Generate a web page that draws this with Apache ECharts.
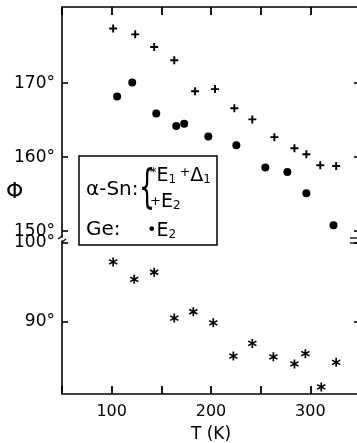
<!DOCTYPE html>
<html>
<head>
<meta charset="utf-8">
<script src="https://cdn.jsdelivr.net/npm/echarts@6/dist/echarts.min.js"></script>
<style>
  html, body { margin: 0; padding: 0; background: #fff; }
  #chart { width: 357px; height: 443px; }
</style>
</head>
<body>
<div id="chart"></div>
<script>
// alpha-Sn E2 (+), upper panel
const plusT = [101.5, 123.7, 142.8, 163, 184, 204, 223.5, 241.6, 263.8, 284, 296, 310, 326];
const plusPhi = [177.4, 176.6, 174.9, 173.1, 168.9, 169.2, 166.6, 165.1, 162.7, 161.2, 160.4, 158.9, 158.8];
// Ge E2 (dots), upper panel
const dotT = [105.5, 120.7, 144.9, 165, 173, 197.3, 225.5, 254.7, 276.9, 296, 323.3];
const dotPhi = [168.2, 170.1, 165.9, 164.2, 164.5, 162.8, 161.6, 158.6, 158.0, 155.1, 150.8];
// alpha-Sn E1+Delta1 (*), lower panel
const starT = [101.5, 122.7, 142.8, 163, 182.2, 202.3, 222.5, 241.6, 262.8, 284, 295, 311, 326];
const starPhi = [97.6, 95.4, 96.3, 90.5, 91.3, 89.9, 85.7, 87.3, 85.6, 84.7, 86.0, 81.8, 84.9];

const upperTicks = [150, 160, 170];
const lowerTicks = [90, 100];
const xLabels = [100, 200, 300];

const zip = (xs, ys) => xs.map((x, i) => [x, ys[i]]);

const FONT = "DejaVu Sans";
const ink = "#000";

const plusPath = "path://M3.8,0H6.2V3.8H10V6.2H6.2V10H3.8V6.2H0V3.8H3.8Z";
const starPath = "path://M4.1,0H5.9V10H4.1Z" +
  "M0.23,3.24L1.11,1.76L9.77,6.76L8.89,8.24Z" +
  "M8.89,1.76L9.77,3.24L1.11,8.24L0.23,6.76Z";

const chart = echarts.init(document.getElementById("chart"), null, { renderer: "canvas" });

const xTick = { show: true, inside: true, length: 8, lineStyle: { color: ink, width: 1.8 } };

const xBase = {
  type: "value", min: 50, max: 350, interval: 50,
  axisLine: { show: true, onZero: false, lineStyle: { color: ink, width: 1.6 } },
  splitLine: { show: false },
};

const yBase = (min, max, ticks, showLabel, position) => ({
  type: "value", min, max, position,
  axisLine: { show: true, lineStyle: { color: ink, width: 1.6 } },
  axisTick: { show: true, inside: true, length: 6, customValues: ticks, lineStyle: { color: ink, width: 1.6 } },
  axisLabel: {
    show: showLabel, customValues: ticks, margin: 7,
    color: ink, fontFamily: FONT, fontSize: 17,
    formatter: (v) => v + "°",
  },
  splitLine: { show: false },
});

const upperGrid = { left: 62, width: 298, top: 7, height: 230, outerBoundsMode: "none" };
const lowerGrid = { left: 62, width: 298, top: 241, height: 153, outerBoundsMode: "none" };

const option = {
  backgroundColor: "#fff",
  animation: false,
  // grids 2 and 3 overlay 0 and 1 and only carry the right-hand frame
  grid: [upperGrid, lowerGrid, { ...upperGrid }, { ...lowerGrid }],
  xAxis: [
    { ...xBase, gridIndex: 0, position: "top", axisTick: xTick, axisLabel: { show: false } },
    {
      ...xBase, gridIndex: 1, position: "bottom", axisTick: xTick,
      axisLabel: {
        show: true, color: ink, fontFamily: FONT, fontSize: 16, margin: 10,
        formatter: (v) => (xLabels.includes(v) ? String(v) : ""),
      },
      name: "T (K)", nameLocation: "middle", nameGap: 32,
      nameTextStyle: { color: ink, fontFamily: FONT, fontSize: 17 },
    },
    { ...xBase, gridIndex: 2, show: false },
    { ...xBase, gridIndex: 3, show: false },
  ],
  yAxis: [
    { ...yBase(149.2, 180.3, upperTicks, true, "left"), gridIndex: 0 },
    { ...yBase(80.9, 100.25, lowerTicks, true, "left"), gridIndex: 1 },
    { ...yBase(149.2, 180.3, upperTicks, false, "right"), gridIndex: 2 },
    { ...yBase(80.9, 100.25, lowerTicks, false, "right"), gridIndex: 3 },
  ],
  series: [
    {
      name: "α-Sn E2", type: "scatter", xAxisIndex: 0, yAxisIndex: 0,
      symbol: plusPath, symbolSize: 8, itemStyle: { color: ink, opacity: 1 },
      data: zip(plusT, plusPhi),
    },
    {
      name: "Ge E2", type: "scatter", xAxisIndex: 0, yAxisIndex: 0,
      symbol: "circle", symbolSize: 8, itemStyle: { color: ink, opacity: 1 },
      data: zip(dotT, dotPhi),
    },
    {
      name: "α-Sn E1+Δ1", type: "scatter", xAxisIndex: 1, yAxisIndex: 1,
      symbol: starPath, symbolSize: 9, itemStyle: { color: ink, opacity: 1 },
      data: zip(starT, starPhi),
    },
  ],
  graphic: [
    // y axis symbol
    { type: "text", left: 6, top: 181, style: { text: "Φ", font: `22px "${FONT}"`, fill: ink } },
    // axis break marks
    { type: "polyline", shape: { points: [[62, 236], [58, 239]] }, style: { stroke: ink, lineWidth: 1.3 } },
    { type: "polyline", shape: { points: [[66, 239], [62, 242]] }, style: { stroke: ink, lineWidth: 1.3 } },
    { type: "line", shape: { x1: 350, y1: 238, x2: 357, y2: 238 }, style: { stroke: ink, lineWidth: 1.3 } },
    { type: "line", shape: { x1: 350, y1: 243, x2: 357, y2: 243 }, style: { stroke: ink, lineWidth: 1.3 } },
    // legend box
    {
      type: "rect", shape: { x: 79, y: 156, width: 138, height: 89 },
      style: { fill: "#fff", stroke: ink, lineWidth: 1.5 }, z: 10,
    },
    { type: "text", x: 86, y: 190, z: 11,
      style: { text: "α-Sn:", font: `20px "${FONT}"`, fill: ink, verticalAlign: "middle" } },
    { type: "text", x: 139, y: 190, z: 11, scaleX: 0.55,
      style: { text: "{", font: `46px "${FONT}"`, fill: ink, verticalAlign: "middle" } },
    { type: "text", x: 150, y: 176, z: 11,
      style: {
        text: "{s|*}{b|E}{sub|1} {s|+}{b|Δ}{sub|1}",
        verticalAlign: "middle", fill: ink,
        rich: {
          s: { font: `13px "${FONT}"`, verticalAlign: "top", fill: ink },
          b: { font: `19px "${FONT}"`, fill: ink },
          sub: { font: `12px "${FONT}"`, verticalAlign: "bottom", fill: ink },
        },
      } },
    { type: "text", x: 150, y: 202, z: 11,
      style: {
        text: "{s|+}{b|E}{sub|2}",
        verticalAlign: "middle", fill: ink,
        rich: {
          s: { font: `13px "${FONT}"`, fill: ink },
          b: { font: `19px "${FONT}"`, fill: ink },
          sub: { font: `12px "${FONT}"`, verticalAlign: "bottom", fill: ink },
        },
      } },
    { type: "text", x: 86, y: 230, z: 11,
      style: { text: "Ge:", font: `20px "${FONT}"`, fill: ink, verticalAlign: "middle" } },
    { type: "text", x: 147, y: 231, z: 11,
      style: {
        text: "{s|•}{b|E}{sub|2}",
        verticalAlign: "middle", fill: ink,
        rich: {
          s: { font: `16px "${FONT}"`, fill: ink },
          b: { font: `19px "${FONT}"`, fill: ink },
          sub: { font: `12px "${FONT}"`, verticalAlign: "bottom", fill: ink },
        },
      } },
  ],
};

chart.setOption(option);
</script>
</body>
</html>
